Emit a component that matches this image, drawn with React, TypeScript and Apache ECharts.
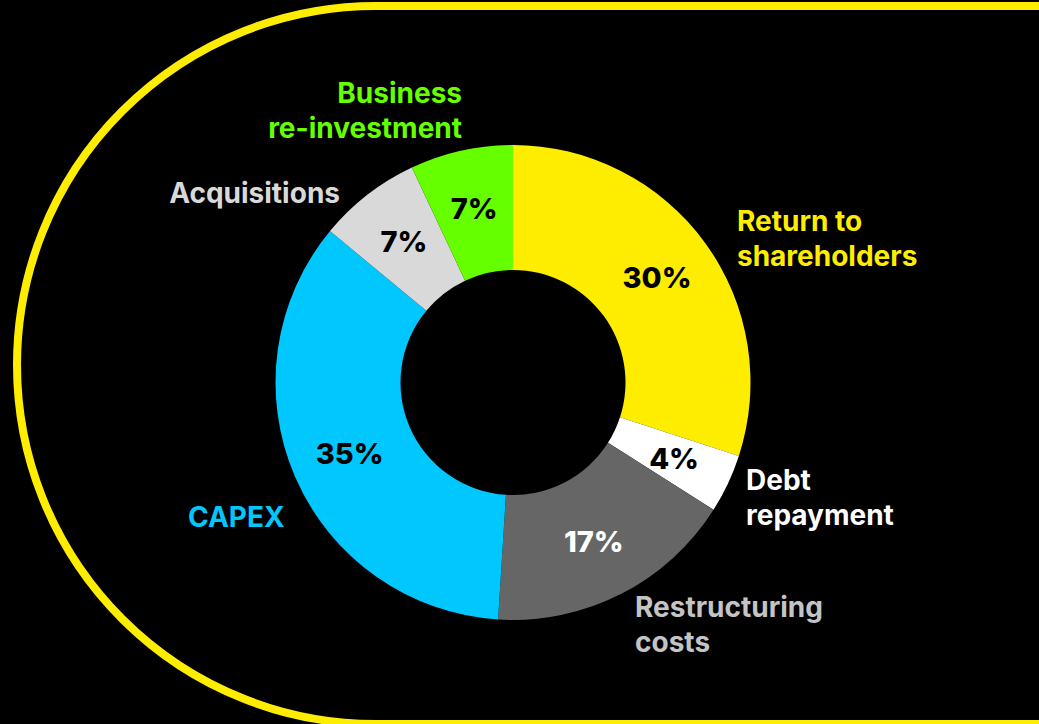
import React, { useEffect, useRef } from "react";
import * as echarts from "echarts";

const categories = [
  "Return to shareholders",
  "Debt repayment",
  "Restructuring costs",
  "CAPEX",
  "Acquisitions",
  "Business re-investment",
];
const values = [30, 4, 17, 35, 7, 7];
const sliceColors = ["#ffed00", "#ffffff", "#666666", "#00c8ff", "#d9d9d9", "#66ff00"];
const pctColors = ["#000000", "#000000", "#ffffff", "#000000", "#000000", "#000000"];
const nameLines = [
  ["Return to", "shareholders"],
  ["Debt", "repayment"],
  ["Restructuring", "costs"],
  ["CAPEX"],
  ["Acquisitions"],
  ["Business", "re-investment"],
];
const nameColors = ["#ffed00", "#ffffff", "#c4c4c4", "#00c8ff", "#d9d9d9", "#66ff00"];

// layout of outer name labels (x, y center, align)
const nameLayout: [number, number, string][] = [
  [737, 238, "left"],
  [746, 497, "left"],
  [635, 624, "left"],
  [188, 517, "left"],
  [340, 193, "right"],
  [462, 110, "right"],
];

const FONT = "Inter, 'Noto Sans', sans-serif";

export default function App() {
  const ref = useRef<HTMLDivElement>(null);
  useEffect(() => {
    if (!ref.current) return;
    const chart = echarts.init(ref.current, null, { renderer: "svg" });
    const texts = categories.map((c, i) => ({
      type: "text",
      x: nameLayout[i][0],
      y: nameLayout[i][1],
      style: {
        text: nameLines[i].join("\n"),
        fill: nameColors[i],
        font: `700 28px ${FONT}`,
        textAlign: nameLayout[i][2],
        textVerticalAlign: "middle",
        lineHeight: 35,
      },
      z: 10,
    }));
    chart.setOption({
      animation: false,
      backgroundColor: "#000000",
      graphic: [
        {
          type: "rect",
          shape: { x: 17, y: 6, width: 1200, height: 718, r: [359, 0, 0, 359] },
          style: { fill: "none", stroke: "#ffed00", lineWidth: 8 },
          z: 1,
        },
        ...texts,
      ],
      series: [
        {
          type: "pie",
          center: [513, 382.5],
          radius: [112.5, 237.5],
          startAngle: 90,
          clockwise: true,
          avoidLabelOverlap: false,
          itemStyle: { borderWidth: 0 },
          label: {
            show: true,
            position: "inside",
            formatter: "{c}%",
            fontFamily: FONT,
            fontWeight: 800,
            fontSize: 29,
          },
          labelLine: { show: false },
          emphasis: { disabled: true },
          data: categories.map((c, i) => ({
            name: c,
            value: values[i],
            itemStyle: { color: sliceColors[i] },
            label: { color: pctColors[i] },
          })),
        },
      ],
    });
    return () => chart.dispose();
  }, []);
  return (
    <div
      ref={ref}
      style={{ position: "absolute", left: 0, top: 0, width: 1039, height: 724, background: "#000" }}
    />
  );
}
